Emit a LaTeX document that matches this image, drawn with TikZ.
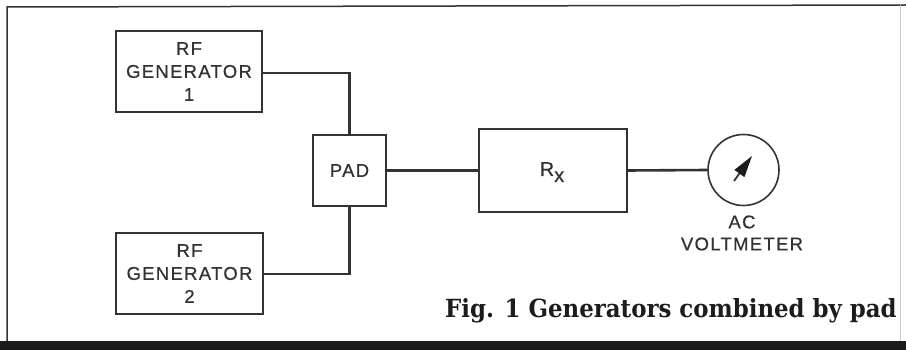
\documentclass[tikz,border=0pt]{standalone}
\usepackage{fontspec}
\usepackage{graphicx}
\usetikzlibrary{calc}
\newfontfamily\labfont[LetterSpace=7,FakeBold=0.6]{Liberation Sans}
\newfontfamily\capfont{DejaVu Serif}
\definecolor{ink}{HTML}{333333}
\definecolor{band}{HTML}{1C1C1C}
\begin{document}
\begin{tikzpicture}[x=1pt,y=-1pt,
  blk/.style={draw=ink,line width=1.6pt,rectangle,inner sep=0pt,
    font=\fontsize{18.5}{23}\labfont,text=ink,align=center},
  wire/.style={draw=ink,line width=2.6pt},
  lab/.style={font=\fontsize{18.5}{22}\labfont,text=ink,align=center,inner sep=0pt}]
\useasboundingbox (0,0) rectangle (906,350);
\fill[white] (0,0) rectangle (906,350);
% frame
\draw[ink,line width=1.5pt] (7,350) -- (7,7) -- (906,5);
\draw[gray!40,line width=0.8pt] (900,5) -- (900,342);
\fill[band] (0,341) rectangle (906,350);
% blocks
\node[blk,minimum width=146pt,minimum height=81pt] (g1) at (189,71.5) {RF\\GENERATOR\\1};
\node[blk,minimum width=147pt,minimum height=81pt] (g2) at (189.5,273.5) {RF\\GENERATOR\\2};
\node[blk,minimum width=73pt,minimum height=71pt] (pad) at (349.5,170.5) {PAD};
\node[blk,minimum width=148pt,minimum height=83pt] (rx) at (553,170.5) {};
\node[lab,anchor=base,font=\fontsize{20}{22}\labfont] (rxl) at (552,176) {R\raisebox{-6pt}{x}};
\node[draw=ink,line width=1.6pt,circle,minimum size=71pt,inner sep=0pt] (m) at (743.5,170) {};
\node[lab] (acl) at (742,233) {AC\\VOLTMETER};
% needle
\coordinate (nt) at (734,181);
\coordinate (nh) at (752,156);
\draw[ink,line width=1.8pt] (nt) -- ($(nt)!0.5!(nh)$);
\fill[band] (nh) -- ($(nt)!0.3!(nh)+(-5,-3.6)$) -- ($(nt)!0.3!(nh)+(5,3.6)$) -- cycle;
% wires
\draw[wire] (g1.east |- 0,73) -| (pad.north);
\draw[wire] (g2.east |- 0,274) -| (pad.south);
\draw[wire] (pad.east) -- (rx.west);
\draw[wire] (rx.east) -- (m.west);
% caption
\node[anchor=base west,inner sep=0pt,text=band] (cap) at (445,317)
  {\scalebox{0.915}[1]{\fontsize{25}{25}\capfont\bfseries Fig. 1 Generators combined by pad}};
\end{tikzpicture}
\end{document}
